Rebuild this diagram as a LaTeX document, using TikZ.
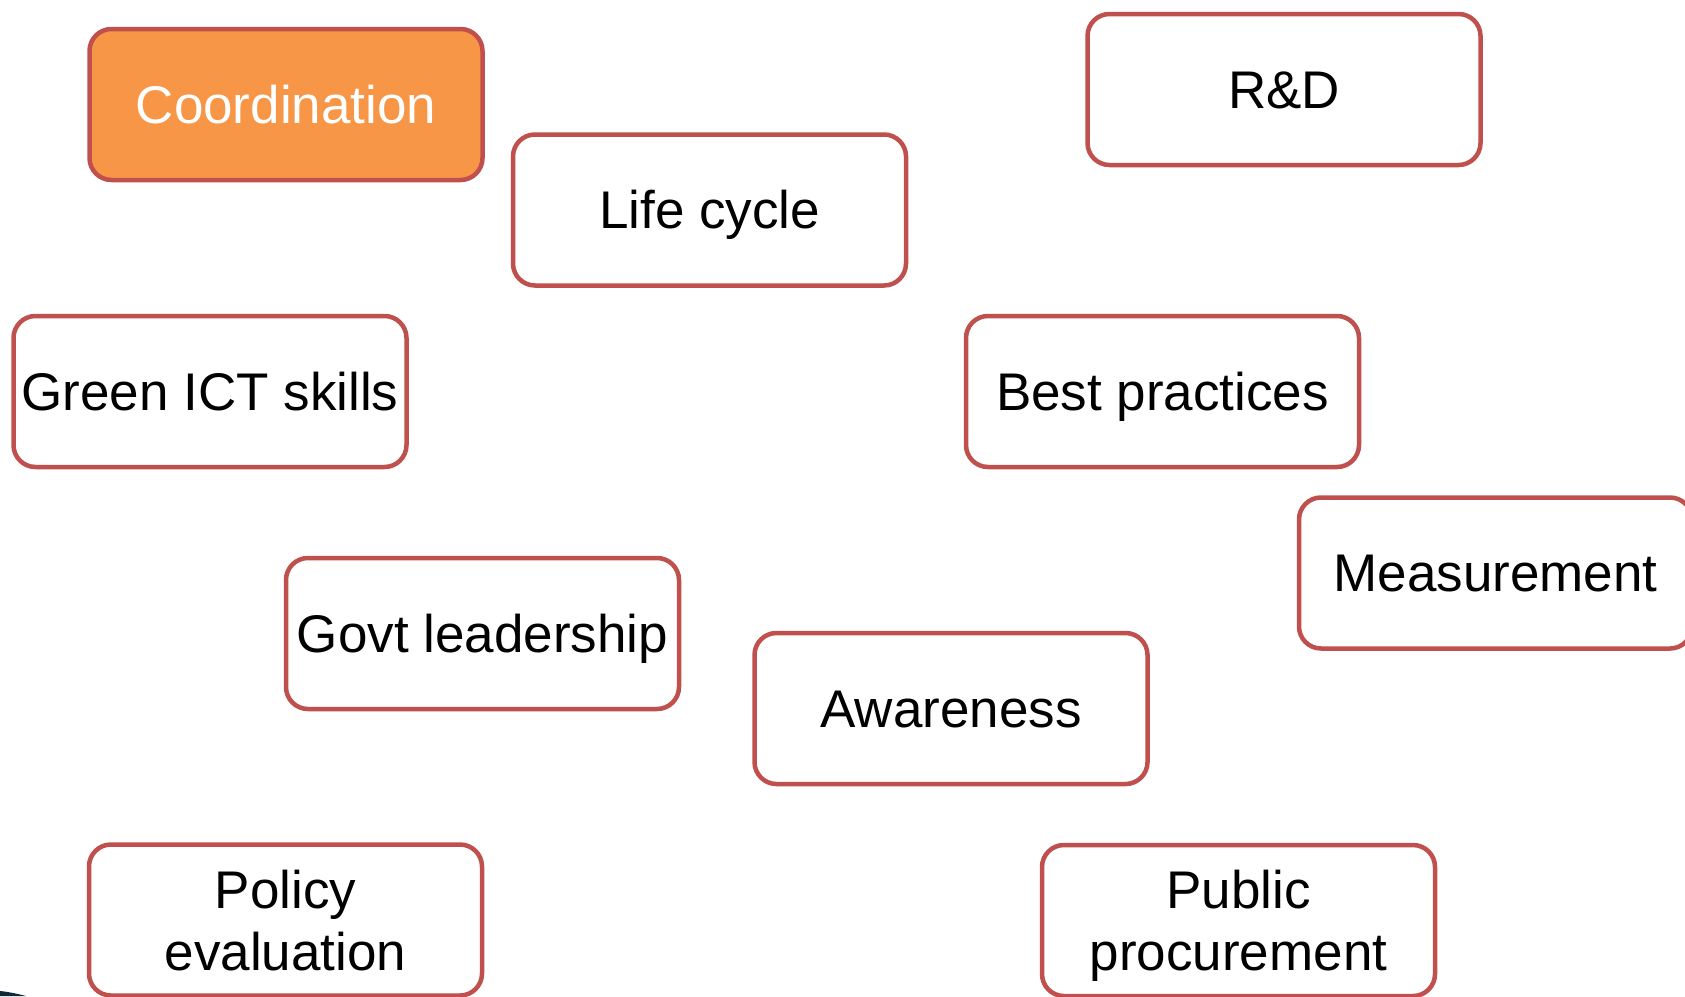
\documentclass[tikz,border=0pt]{standalone}
\usepackage{fontspec}
\setmainfont{Liberation Sans}
\definecolor{boxred}{HTML}{C0504D}
\definecolor{boxorange}{HTML}{F79646}
\definecolor{cornerdark}{HTML}{0E2A3A}
\begin{document}
\begin{tikzpicture}[x=1pt,y=-1pt,
  topic/.style={draw=boxred, line width=4.5pt, fill=white, rounded corners=22pt,
    minimum width=393pt, minimum height=151pt, inner sep=0pt, align=center,
    font=\fontsize{53}{62}\selectfont, text=black, text height=48pt, text depth=11pt},
  twoline/.style={topic, text height=, text depth=0pt},
  lead/.style={topic, fill=boxorange, text=white}]
\useasboundingbox (0,0) rectangle (1685,996);
\clip (0,0) rectangle (1685,996);
\fill[white] (0,0) rectangle (1685,996);
% dark corner sliver at the lower left
\fill[cornerdark] (0,991) .. controls (10,992) and (18,994) .. (26,996) -- (0,996) -- cycle;
\node[lead]  (coord)   at (286,104.5)   {Coordination};
\node[topic] (life)    at (709.5,210)   {Life cycle};
\node[topic] (rd)      at (1284,89.5)   {R\&D};
\node[topic] (skills)  at (210,391.5)   {Green ICT skills};
\node[topic] (best)    at (1162.5,391.5){Best practices};
\node[topic] (measure) at (1495.5,573)  {Measurement};
\node[topic] (govt)    at (482.5,633.5) {Govt leadership};
\node[topic] (aware)   at (951,708.5)   {Awareness};
\node[twoline] (policy)  at (285.5,920)   {Policy\\evaluation};
\node[twoline] (public)  at (1238.5,920.5){Public\\procurement};
\end{tikzpicture}
\end{document}
